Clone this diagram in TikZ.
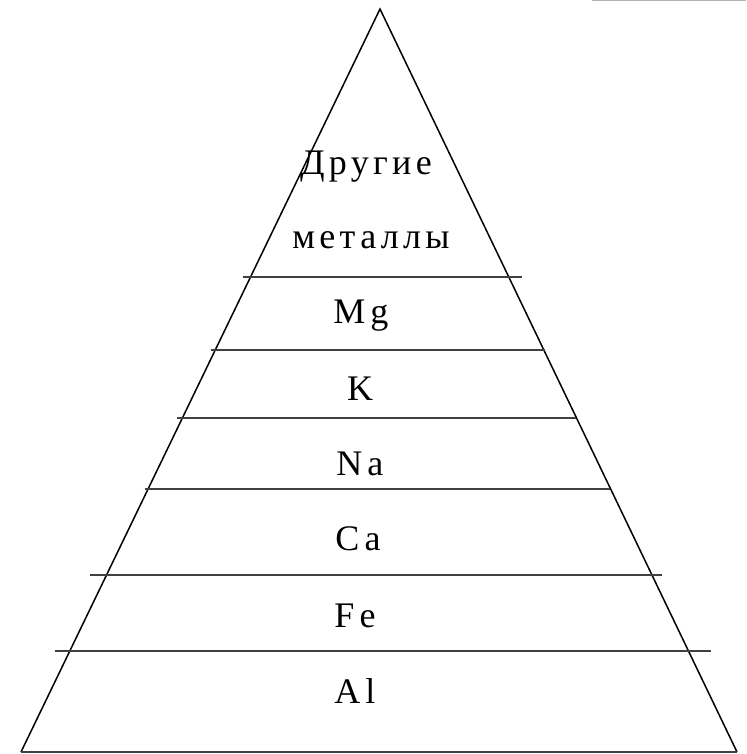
\documentclass[tikz,border=0pt]{standalone}
\usepackage{fontspec}
\usepackage{tikz}
\usetikzlibrary{calc}
\newfontfamily\pyrfont[LetterSpace=12]{Liberation Serif}
\newfontfamily\pyrsymfont[LetterSpace=14]{Liberation Serif}
\tikzset{
  pyredge/.style={draw=black, line width=1.5pt},
  pyrlayer/.style={draw=black!75, line width=1.6pt},
  pyrlabel/.style={anchor=base, inner sep=0pt, font=\pyrfont\fontsize{36}{36}\selectfont},
  pyrsym/.style={anchor=base, inner sep=0pt, font=\pyrsymfont\fontsize{36}{36}\selectfont}
}
\begin{document}
\begin{tikzpicture}[x=1pt,y=-1pt]
  \useasboundingbox (0,0) rectangle (746,754);
  \fill[white] (0,0) rectangle (746,754);
  \draw[gray!60, line width=1.2pt] (592,0.6) -- (746,0.6);
  \coordinate (top) at (380,9);
  \coordinate (baseL) at (21,752);
  \coordinate (baseR) at (737,752);
  \draw[pyredge, line join=miter] (baseL) -- (top) -- (baseR);
  \draw[pyrlayer] (baseL) -- (baseR);
  % layer borders
  \coordinate (l1) at (243,277); \coordinate (r1) at (522,277);
  \coordinate (l2) at (211,350); \coordinate (r2) at (545,350);
  \coordinate (l3) at (177,418); \coordinate (r3) at (576,418);
  \coordinate (l4) at (145,489); \coordinate (r4) at (610,489);
  \coordinate (l5) at (90,575);  \coordinate (r5) at (662,575);
  \coordinate (l6) at (55,651);  \coordinate (r6) at (711,651);
  \draw[pyrlayer] (l1) -- (r1);
  \draw[pyrlayer] (l2) -- (r2);
  \draw[pyrlayer] (l3) -- (r3);
  \draw[pyrlayer] (l4) -- (r4);
  \draw[pyrlayer] (l5) -- (r5);
  \draw[pyrlayer] (l6) -- (r6);
  % labels
  \node[pyrlabel] (other1) at (366,175) {Другие};
  \node[pyrlabel] (other2) at (371,248) {металлы};
  \node[pyrsym] (mg) at (361,323) {Mg};
  \node[pyrsym] (k) at (360,400) {K};
  \node[pyrsym] (na) at (360,475) {Na};
  \node[pyrsym] (ca) at (358,550) {Ca};
  \node[pyrsym] (fe) at (355,627) {Fe};
  \node[pyrsym] (al) at (355,703) {Al};
\end{tikzpicture}
\end{document}
